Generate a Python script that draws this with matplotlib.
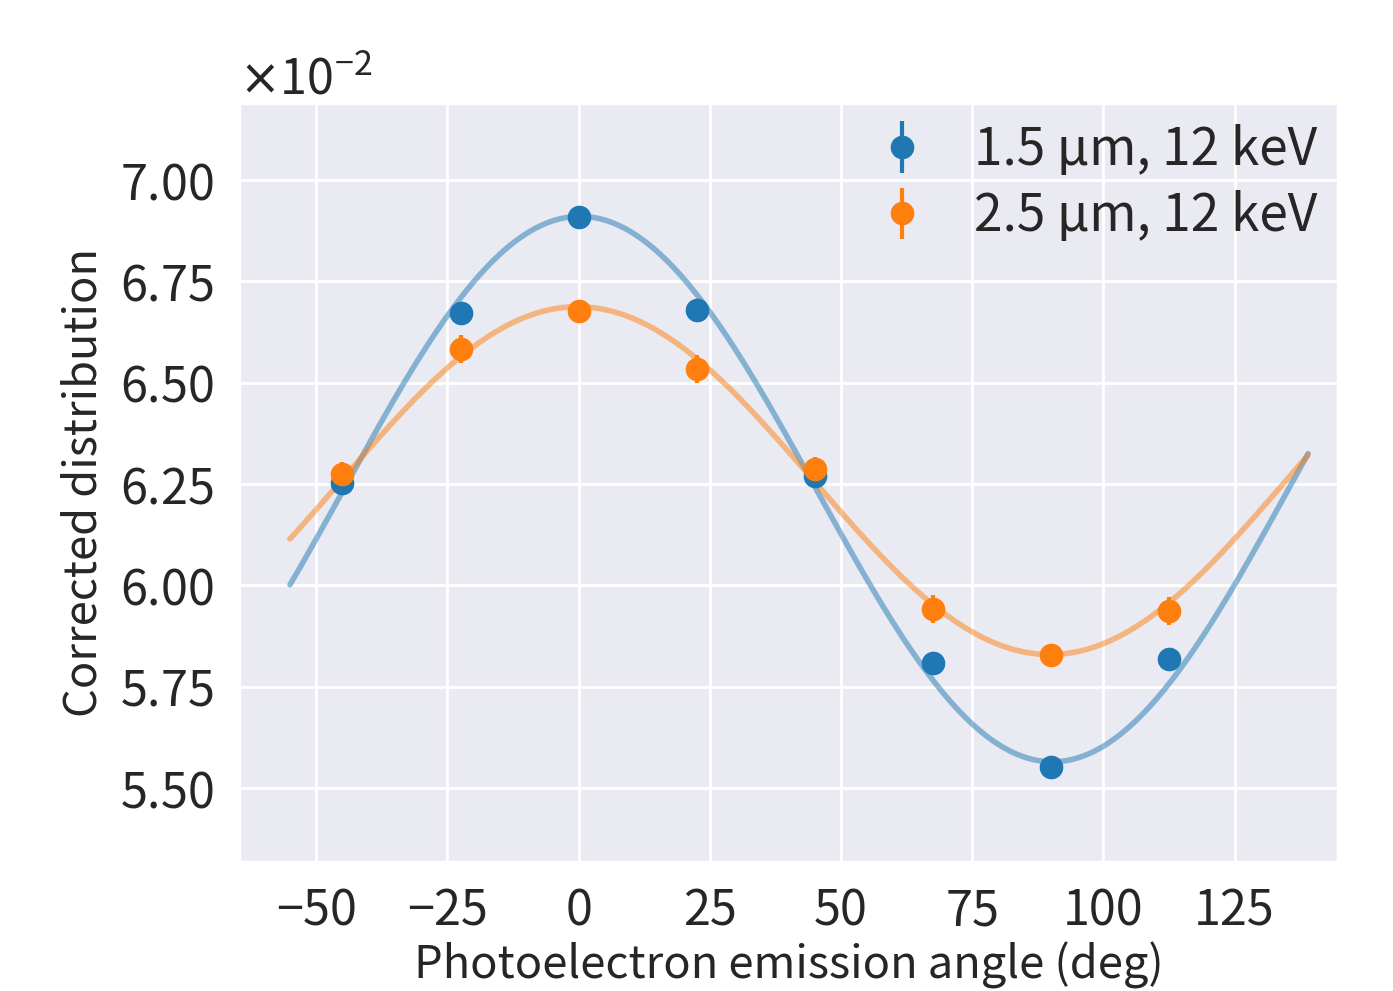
import matplotlib
matplotlib.use("Agg")
import matplotlib.pyplot as plt
import numpy as np
import seaborn as sns
from matplotlib.ticker import MultipleLocator

# emission angle (deg)
angles = [-45, -22.5, 0, 22.5, 45, 67.5, 90, 112.5]

# corrected distribution, x1e-2
thin_vals = [6.252, 6.672, 6.909, 6.679, 6.270, 5.808, 5.552, 5.818]
thin_errs = [0.012, 0.020, 0.006, 0.020, 0.012, 0.020, 0.006, 0.020]
thick_vals = [6.275, 6.583, 6.677, 6.534, 6.287, 5.942, 5.828, 5.937]
thick_errs = [0.030, 0.035, 0.025, 0.035, 0.030, 0.035, 0.022, 0.035]

labels = ["1.5 μm, 12 keV", "2.5 μm, 12 keV"]
fit_range = (-55, 139)

sns.set_theme(style="darkgrid")
plt.rcParams["font.family"] = ["Noto Sans CJK JP", "DejaVu Sans"]
plt.rcParams["axes.unicode_minus"] = True


def fit_curve(x, y, err, xs):
    # weighted least squares: a + b cos(2x) + c sin(2x)
    t = np.radians(np.asarray(x))
    w = 1.0 / np.asarray(err)
    A = np.column_stack([np.ones_like(t), np.cos(2 * t), np.sin(2 * t)])
    coef, *_ = np.linalg.lstsq(A * w[:, None], np.asarray(y) * w, rcond=None)
    ts = np.radians(xs)
    return coef[0] + coef[1] * np.cos(2 * ts) + coef[2] * np.sin(2 * ts)


fig = plt.figure(figsize=(6.965, 4.955), dpi=200)
ax = fig.add_axes([0.1716, 0.130, 0.7889, 0.766])

colors = ["#1f77b4", "#ff7f0e"]
xs = np.linspace(fit_range[0], fit_range[1], 400)
for vals, errs, c, lab in zip([thin_vals, thick_vals], [thin_errs, thick_errs], colors, labels):
    v = np.array(vals) * 1e-2
    e = np.array(errs) * 1e-2
    ax.errorbar(angles, v, yerr=e, fmt="o", color=c, ms=7.5, elinewidth=1.5,
                capsize=0, label=lab, zorder=3)
    ax.plot(xs, fit_curve(angles, v, e, xs), color=c, alpha=0.5, lw=2.0, zorder=2)

ax.set_xlim(-64.7, 144.7)
ax.set_ylim(0.05317, 0.0719)
ax.xaxis.set_major_locator(MultipleLocator(25))
ax.yaxis.set_major_locator(MultipleLocator(0.0025))
ax.ticklabel_format(axis="y", style="sci", scilimits=(0, 0), useMathText=True)
ax.tick_params(labelsize=17.5, pad=3)
ax.yaxis.get_offset_text().set_fontsize(17.5)

ax.set_xlabel("Photoelectron emission angle (deg)", fontsize=16.3, labelpad=2)
ax.set_ylabel("Corrected distribution", fontsize=16.3, labelpad=5)

ax.legend(loc="upper right", fontsize=18.5, frameon=False, handletextpad=0.6,
          borderaxespad=0.0, handlelength=1.6, labelspacing=0.25)

fig.savefig("out.png", dpi=200)
